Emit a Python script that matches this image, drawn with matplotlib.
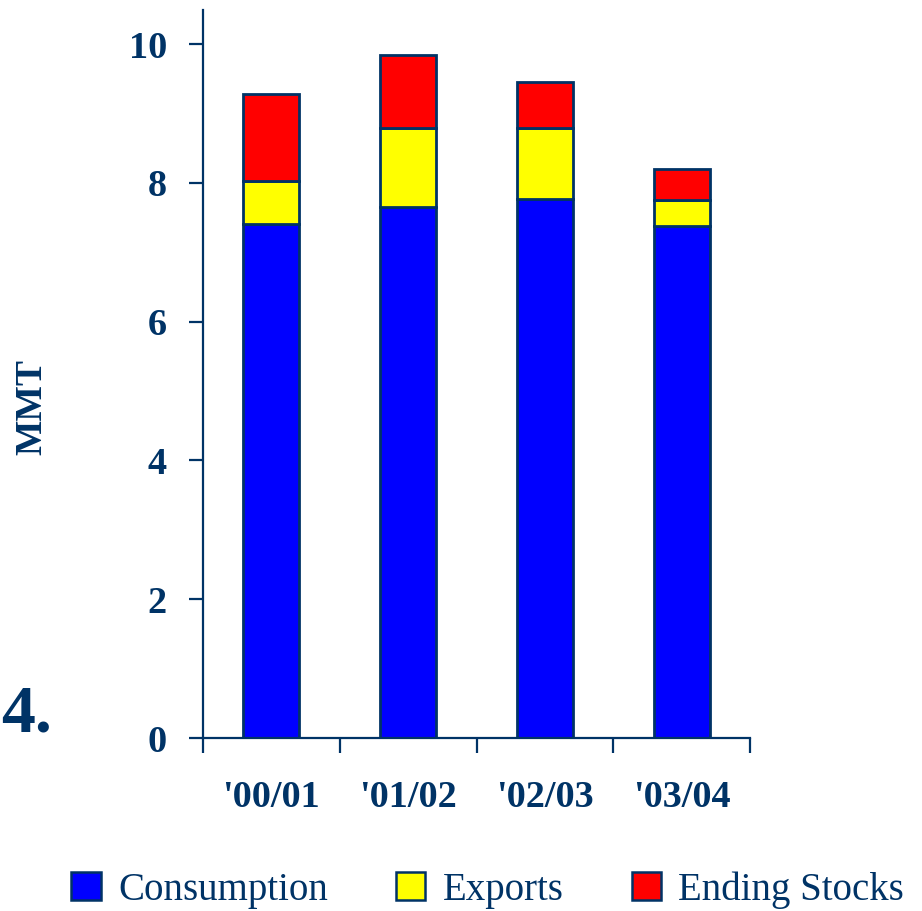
import numpy as np
import matplotlib
matplotlib.use("Agg")
import matplotlib.pyplot as plt
from matplotlib.patches import Patch

years = ["'00/01", "'01/02", "'02/03", "'03/04"]
consumption = [7.41, 7.65, 7.77, 7.38]
exports = [0.62, 1.14, 1.02, 0.37]
ending_stocks = [1.25, 1.05, 0.66, 0.45]

navy = "#003366"
serif = ["Liberation Serif", "DejaVu Serif"]

fig = plt.figure(figsize=(9.22, 9.11), dpi=100)
ax = fig.add_axes([0.2202, 0.1899, 0.5933, 0.799])

x = np.arange(len(years))
w = 0.41
cons = np.array(consumption)
exp_ = np.array(exports)
ax.bar(x, cons, w, color="#0000ff", edgecolor=navy, linewidth=2.0)
ax.bar(x, exp_, w, bottom=cons, color="#ffff00", edgecolor=navy, linewidth=2.0)
ax.bar(x, ending_stocks, w, bottom=cons + exp_, color="#ff0000", edgecolor=navy, linewidth=2.0)

ax.set_xlim(-0.5, 3.5)
ax.set_ylim(0, 10.49)
for s in ["top", "right"]:
    ax.spines[s].set_visible(False)
for s in ["left", "bottom"]:
    ax.spines[s].set_color(navy)
    ax.spines[s].set_linewidth(1.6)

ax.set_yticks([0, 2, 4, 6, 8, 10])
ax.tick_params(axis="y", direction="out", length=10, width=1.6, color=navy,
               labelsize=27.5, labelcolor=navy, pad=16)
ax.set_xticks(x)
ax.set_xticklabels(years)
ax.set_xticks(np.arange(-0.5, 4, 1), minor=True)
ax.tick_params(axis="x", which="major", length=0, labelsize=27.5, labelcolor=navy, pad=30)
ax.tick_params(axis="x", which="minor", direction="out", length=11, width=1.6, color=navy)
for lab in ax.get_xticklabels() + ax.get_yticklabels():
    lab.set_fontfamily(serif)
    lab.set_fontweight("bold")

fig.text(0.035, 0.553, "MMT", rotation=90, ha="center", va="center",
         fontsize=27, fontweight="bold", color=navy, family=serif)
fig.text(0.001, 0.215, "4.", ha="left", va="center", fontsize=49,
         fontweight="bold", color=navy, family=serif)

handles = [Patch(facecolor="#0000ff", edgecolor=navy, linewidth=1.8),
           Patch(facecolor="#ffff00", edgecolor=navy, linewidth=1.8),
           Patch(facecolor="#ff0000", edgecolor=navy, linewidth=1.8)]
leg = fig.legend(handles, ["Consumption", "Exports", "Ending Stocks"],
                 loc="center", bbox_to_anchor=(0.529, 0.023), ncol=3, frameon=False,
                 prop={"family": serif, "size": 28}, handlelength=0.75, handleheight=0.75,
                 handletextpad=0.45, columnspacing=1.75, borderpad=0.1)
for t in leg.get_texts():
    t.set_color(navy)

fig.savefig("out.png", dpi=100)
